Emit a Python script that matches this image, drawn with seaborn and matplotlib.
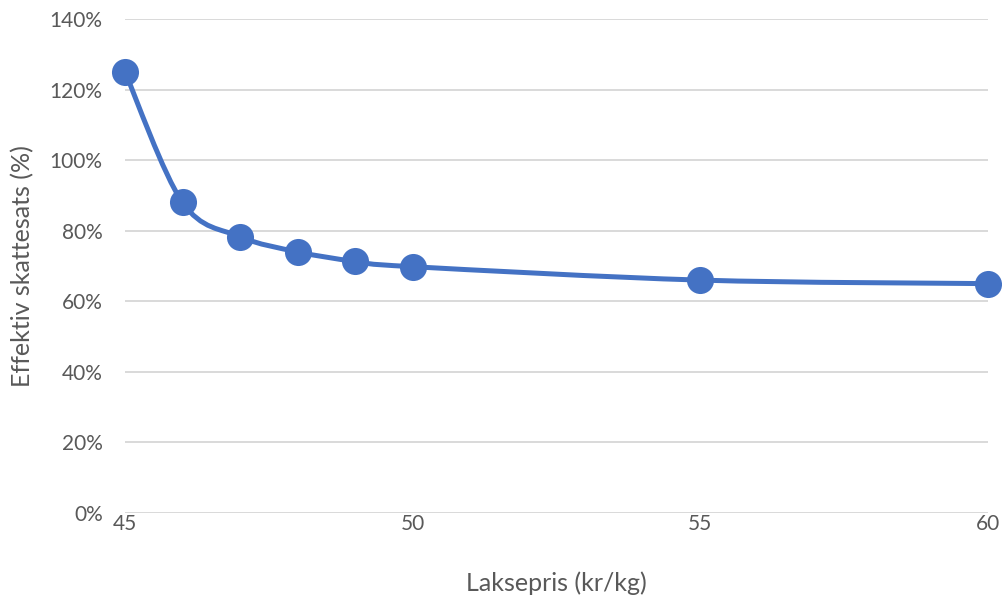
import numpy as np
import matplotlib
matplotlib.use("Agg")
import matplotlib.pyplot as plt
import seaborn as sns
from matplotlib.path import Path
from matplotlib.patches import PathPatch
from matplotlib.ticker import PercentFormatter

BLUE = "#4472C4"
GRID = "#D9D9D9"
TEXT = "#595959"

laksepris = [45, 46, 47, 48, 49, 50, 55, 60]
skattesats = [125.0, 88.0, 78.3, 74.0, 71.3, 69.8, 66.0, 65.0]

x_ticks = [45, 50, 55, 60]
y_ticks = [0, 20, 40, 60, 80, 100, 120, 140]


def smooth_path(xs, ys):
    # Excel-like smoothed line: Catmull-Rom segments as cubic Bezier
    pts = np.column_stack([xs, ys]).astype(float)
    verts = [pts[0]]
    codes = [Path.MOVETO]
    n = len(pts)
    for i in range(n - 1):
        p0 = pts[i - 1] if i > 0 else pts[i]
        p1 = pts[i]
        p2 = pts[i + 1]
        p3 = pts[i + 2] if i + 2 < n else pts[i + 1]
        c1 = p1 + (p2 - p0) / 6
        c2 = p2 - (p3 - p1) / 6
        verts += [c1, c2, p2]
        codes += [Path.CURVE4] * 3
    return Path(verts, codes)


sns.set_theme(style="white")
plt.rcParams["font.family"] = ["Lato", "DejaVu Sans"]

fig = plt.figure(figsize=(10.03, 6.03), dpi=100)
ax = fig.add_axes([0.1246, 0.1493, 0.8605, 0.8192])

ax.add_patch(PathPatch(smooth_path(laksepris, skattesats), fill=False,
                       edgecolor=BLUE, linewidth=3.6, capstyle="round",
                       zorder=3))
sns.scatterplot(x=laksepris, y=skattesats, ax=ax, color=BLUE, s=380,
                edgecolor=BLUE, linewidth=0, zorder=4, clip_on=False)

ax.set_xlim(45, 60)
ax.set_ylim(0, 140)
ax.set_xticks(x_ticks)
ax.set_yticks(y_ticks)
ax.yaxis.set_major_formatter(PercentFormatter(decimals=0))

ax.grid(axis="y", color=GRID, linewidth=1.4)
ax.grid(axis="x", visible=False)
for side in ax.spines.values():
    side.set_visible(False)

ax.tick_params(axis="both", length=0, colors=TEXT, labelsize=15)
ax.tick_params(axis="x", pad=1)
ax.tick_params(axis="y", pad=16)

ax.set_xlabel("Laksepris (kr/kg)", color=TEXT, fontsize=18, labelpad=27)
ax.set_ylabel("Effektiv skattesats (%)", color=TEXT, fontsize=18, labelpad=11)

fig.savefig("out.png", dpi=100)
